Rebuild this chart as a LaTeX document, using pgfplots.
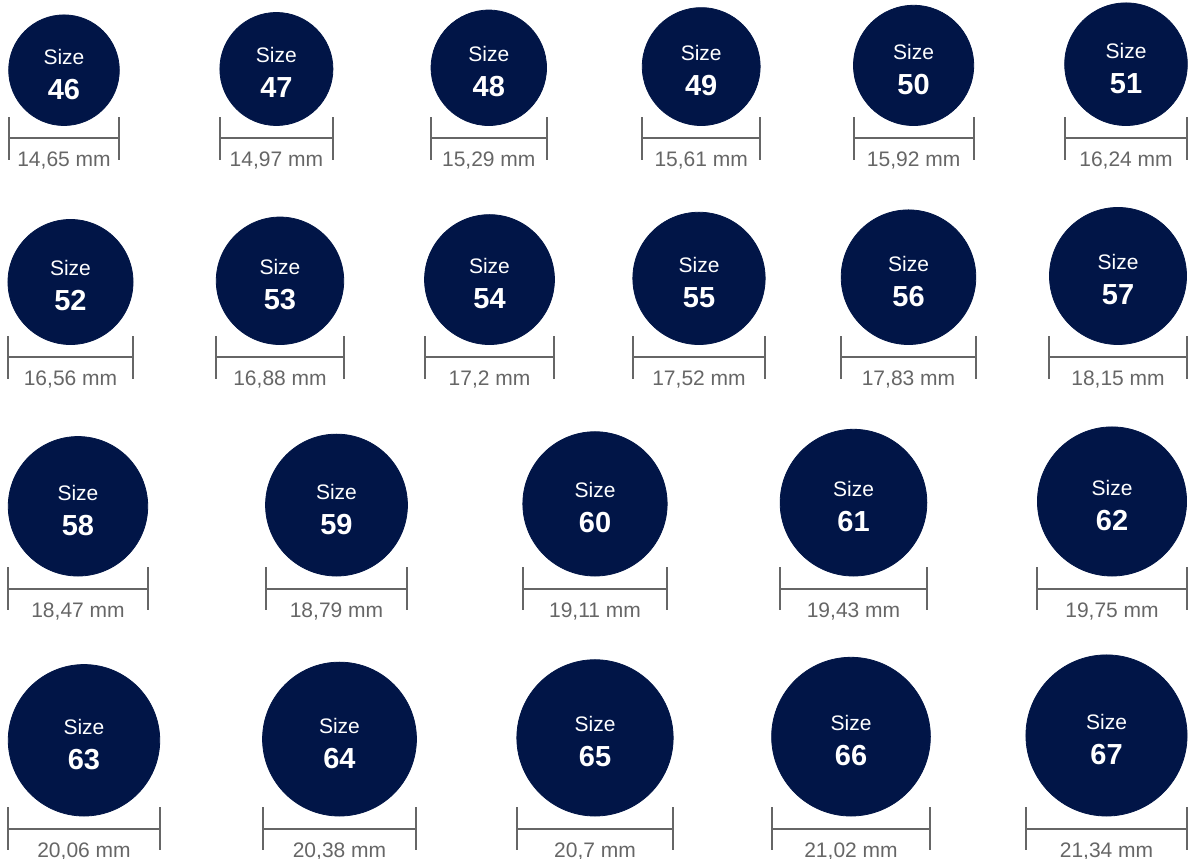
\documentclass[border=0pt]{standalone}
\usepackage{pgfplots}
\usepackage{pgfplotstable}
\pgfplotsset{compat=1.18}
\usepackage{fontspec}
\setmainfont{Liberation Sans}

\definecolor{ringblue}{HTML}{011547}
\definecolor{rulegray}{HTML}{666666}

% x, circle bottom (px), diameter (mm), size, label
\pgfplotstableread{
x      yb     d      s   lab
64     125.5  14.65  46  14,65
276.4  125.5  14.97  47  14,97
488.8  125.5  15.29  48  15,29
701.2  125.5  15.61  49  15,61
913.6  125.5  15.92  50  15,92
1126   125.5  16.24  51  16,24
70.5   344.5  16.56  52  16,56
280    344.5  16.88  53  16,88
489.5  344.5  17.20  54  17,2
699    344.5  17.52  55  17,52
908.5  344.5  17.83  56  17,83
1118   344.5  18.15  57  18,15
78     576    18.47  58  18,47
336.5  576    18.79  59  18,79
595    576    19.11  60  19,11
853.5  576    19.43  61  19,43
1112   576    19.75  62  19,75
84     816    20.06  63  20,06
339.5  816    20.38  64  20,38
595    816    20.70  65  20,7
851    816    21.02  66  21,02
1106.5 816    21.34  67  21,34
}\rings

\begin{document}
\begin{tikzpicture}
\begin{axis}[
  width=594pt, height=429pt,
  scale only axis,
  xmin=0, xmax=1188,
  ymin=0, ymax=858,
  y dir=reverse,
  hide axis,
  clip=false,
  ruler/.style={draw=none, mark=none,
    error bars/error mark=none,
    error bars/error bar style={draw=rulegray, line width=1pt}},
]
\coordinate (sw) at (rel axis cs:0,0);
\coordinate (ne) at (rel axis cs:1,1);

% rings
\addplot[scatter, only marks, mark=*, point meta=\thisrow{d},
  scatter/use mapped color={draw=ringblue, fill=ringblue},
  visualization depends on={\thisrow{d}\as\dmm},
  scatter/@pre marker code/.append style={/tikz/mark size=1.8875*\dmm, /tikz/line width=0.2pt}]
  table[x=x, y expr=\thisrow{yb}-3.775*\thisrow{d}] {\rings};

% ruler: horizontal line
\addplot[ruler, error bars/.cd, x dir=both, x explicit]
  table[x=x, y expr=\thisrow{yb}+12.5, x error expr=3.775*\thisrow{d}] {\rings};
% ruler: end ticks
\addplot[ruler, error bars/.cd, y dir=both, y explicit]
  table[x expr=\thisrow{x}-3.775*\thisrow{d}, y expr=\thisrow{yb}+12.5, y error expr=21.5] {\rings};
\addplot[ruler, error bars/.cd, y dir=both, y explicit]
  table[x expr=\thisrow{x}+3.775*\thisrow{d}, y expr=\thisrow{yb}+12.5, y error expr=21.5] {\rings};

% "Size"
\addplot[only marks, mark=none, nodes near coords={Size},
  nodes near coords style={anchor=base, inner sep=0pt, text=white,
    font=\fontsize{10.5}{12}\selectfont}]
  table[x=x, y expr=\thisrow{yb}-3.775*\thisrow{d}-6] {\rings};

% size number
\addplot[only marks, mark=none, point meta=explicit symbolic,
  nodes near coords={\pgfplotspointmeta},
  nodes near coords style={anchor=base, inner sep=0pt, text=white,
    font=\fontsize{14.5}{16}\selectfont\bfseries}]
  table[x=x, y expr=\thisrow{yb}-3.775*\thisrow{d}+29, meta=s] {\rings};

% mm label
\addplot[only marks, mark=none, point meta=explicit symbolic,
  nodes near coords={\pgfplotspointmeta\ mm},
  nodes near coords style={anchor=base, inner sep=0pt, text=rulegray,
    font=\fontsize{10.5}{12}\selectfont}]
  table[x=x, y expr=\thisrow{yb}+41, meta=lab] {\rings};
\end{axis}
\pgfresetboundingbox
\path[use as bounding box] (sw) rectangle (ne);
\end{tikzpicture}
\end{document}
